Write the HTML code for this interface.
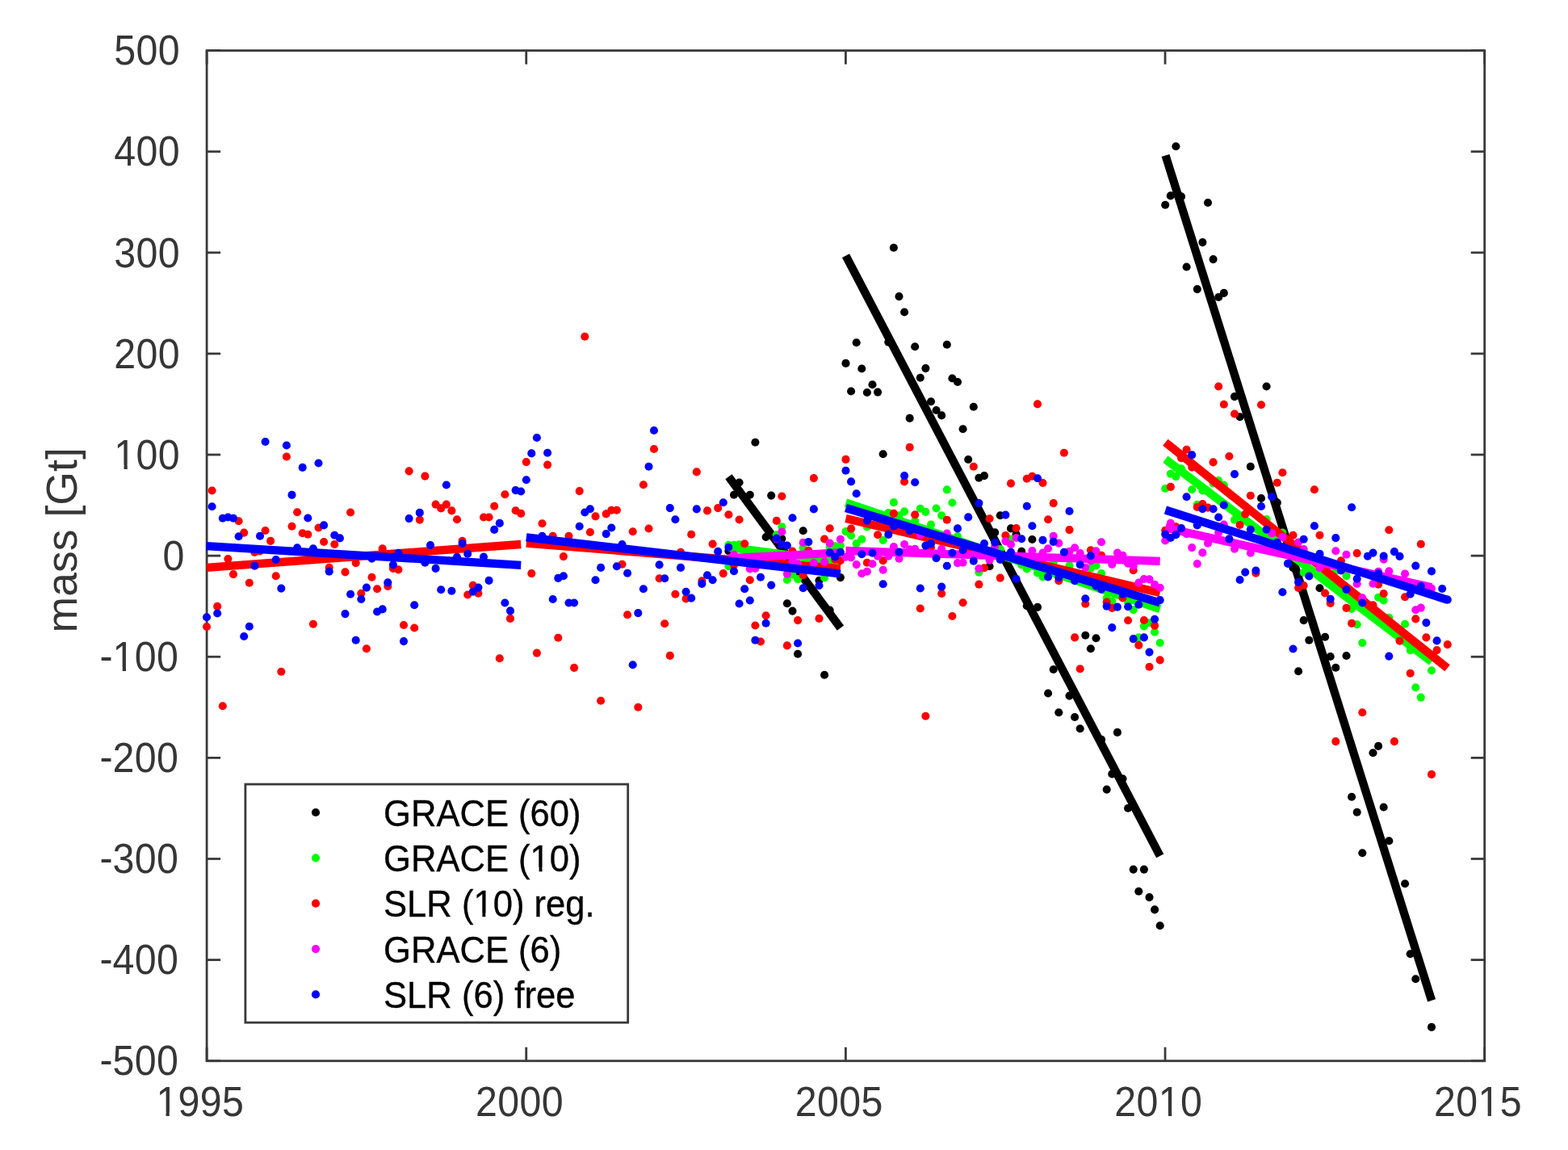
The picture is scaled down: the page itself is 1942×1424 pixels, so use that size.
<!DOCTYPE html>
<html lang="en">
<head>
<meta charset="utf-8">
<title>mass [Gt] time series: GRACE and SLR</title>
<style>
html,body{margin:0;padding:0;background:#fff;}
body{width:1942px;height:1424px;overflow:hidden;font-family:"Liberation Sans",sans-serif;}
svg{display:block;}
</style>
</head>
<body>
<svg width="1942" height="1424" viewBox="0 0 1942 1424">
<rect x="0" y="0" width="1942" height="1424" fill="#fff"/>
<g stroke="#3a3a3a" stroke-width="2.8" fill="none">
<rect x="256.1" y="62.6" width="1582.60" height="1251.10"/>
</g>
<g stroke="#3a3a3a" stroke-width="2.8" fill="none">
<line x1="256.10" y1="1313.7" x2="256.10" y2="1296.7"/>
<line x1="256.10" y1="62.6" x2="256.10" y2="79.6"/>
<line x1="651.75" y1="1313.7" x2="651.75" y2="1296.7"/>
<line x1="651.75" y1="62.6" x2="651.75" y2="79.6"/>
<line x1="1047.40" y1="1313.7" x2="1047.40" y2="1296.7"/>
<line x1="1047.40" y1="62.6" x2="1047.40" y2="79.6"/>
<line x1="1443.05" y1="1313.7" x2="1443.05" y2="1296.7"/>
<line x1="1443.05" y1="62.6" x2="1443.05" y2="79.6"/>
<line x1="1838.70" y1="1313.7" x2="1838.70" y2="1296.7"/>
<line x1="1838.70" y1="62.6" x2="1838.70" y2="79.6"/>
<line x1="256.1" y1="1313.70" x2="273.1" y2="1313.70"/>
<line x1="1838.7" y1="1313.70" x2="1821.7" y2="1313.70"/>
<line x1="256.1" y1="1188.59" x2="273.1" y2="1188.59"/>
<line x1="1838.7" y1="1188.59" x2="1821.7" y2="1188.59"/>
<line x1="256.1" y1="1063.48" x2="273.1" y2="1063.48"/>
<line x1="1838.7" y1="1063.48" x2="1821.7" y2="1063.48"/>
<line x1="256.1" y1="938.37" x2="273.1" y2="938.37"/>
<line x1="1838.7" y1="938.37" x2="1821.7" y2="938.37"/>
<line x1="256.1" y1="813.26" x2="273.1" y2="813.26"/>
<line x1="1838.7" y1="813.26" x2="1821.7" y2="813.26"/>
<line x1="256.1" y1="688.15" x2="273.1" y2="688.15"/>
<line x1="1838.7" y1="688.15" x2="1821.7" y2="688.15"/>
<line x1="256.1" y1="563.04" x2="273.1" y2="563.04"/>
<line x1="1838.7" y1="563.04" x2="1821.7" y2="563.04"/>
<line x1="256.1" y1="437.93" x2="273.1" y2="437.93"/>
<line x1="1838.7" y1="437.93" x2="1821.7" y2="437.93"/>
<line x1="256.1" y1="312.82" x2="273.1" y2="312.82"/>
<line x1="1838.7" y1="312.82" x2="1821.7" y2="312.82"/>
<line x1="256.1" y1="187.71" x2="273.1" y2="187.71"/>
<line x1="1838.7" y1="187.71" x2="1821.7" y2="187.71"/>
<line x1="256.1" y1="62.60" x2="273.1" y2="62.60"/>
<line x1="1838.7" y1="62.60" x2="1821.7" y2="62.60"/>
</g>
<g fill="#000000"><circle cx="902.4" cy="682.3" r="5.05"/><circle cx="909.0" cy="612.7" r="5.05"/><circle cx="915.6" cy="597.5" r="5.05"/><circle cx="928.8" cy="612.7" r="5.05"/><circle cx="935.4" cy="547.8" r="5.05"/><circle cx="948.6" cy="665.0" r="5.05"/><circle cx="955.2" cy="613.6" r="5.05"/><circle cx="968.4" cy="667.1" r="5.05"/><circle cx="974.9" cy="747.2" r="5.05"/><circle cx="981.5" cy="756.6" r="5.05"/><circle cx="988.1" cy="809.7" r="5.05"/><circle cx="994.7" cy="657.2" r="5.05"/><circle cx="1014.5" cy="718.8" r="5.05"/><circle cx="1021.1" cy="835.7" r="5.05"/><circle cx="1027.7" cy="755.6" r="5.05"/><circle cx="1040.9" cy="715.1" r="5.05"/><circle cx="1047.5" cy="449.9" r="5.05"/><circle cx="1054.1" cy="484.5" r="5.05"/><circle cx="1060.7" cy="424.2" r="5.05"/><circle cx="1067.3" cy="456.5" r="5.05"/><circle cx="1073.9" cy="486.0" r="5.05"/><circle cx="1080.5" cy="476.3" r="5.05"/><circle cx="1087.1" cy="485.6" r="5.05"/><circle cx="1093.7" cy="562.2" r="5.05"/><circle cx="1100.3" cy="423.6" r="5.05"/><circle cx="1106.9" cy="306.8" r="5.05"/><circle cx="1113.5" cy="367.1" r="5.05"/><circle cx="1120.1" cy="386.5" r="5.05"/><circle cx="1126.7" cy="517.9" r="5.05"/><circle cx="1133.2" cy="429.3" r="5.05"/><circle cx="1139.8" cy="467.8" r="5.05"/><circle cx="1146.4" cy="456.1" r="5.05"/><circle cx="1153.0" cy="497.3" r="5.05"/><circle cx="1159.6" cy="508.0" r="5.05"/><circle cx="1166.2" cy="514.4" r="5.05"/><circle cx="1172.8" cy="426.7" r="5.05"/><circle cx="1179.4" cy="468.5" r="5.05"/><circle cx="1186.0" cy="473.0" r="5.05"/><circle cx="1192.6" cy="531.3" r="5.05"/><circle cx="1199.2" cy="569.0" r="5.05"/><circle cx="1205.8" cy="503.7" r="5.05"/><circle cx="1212.4" cy="591.8" r="5.05"/><circle cx="1219.0" cy="589.1" r="5.05"/><circle cx="1225.6" cy="701.2" r="5.05"/><circle cx="1232.2" cy="659.4" r="5.05"/><circle cx="1238.8" cy="638.2" r="5.05"/><circle cx="1252.0" cy="654.4" r="5.05"/><circle cx="1258.6" cy="661.5" r="5.05"/><circle cx="1265.2" cy="682.9" r="5.05"/><circle cx="1271.8" cy="750.2" r="5.05"/><circle cx="1278.4" cy="668.0" r="5.05"/><circle cx="1285.0" cy="751.9" r="5.05"/><circle cx="1298.1" cy="858.5" r="5.05"/><circle cx="1304.7" cy="829.0" r="5.05"/><circle cx="1311.3" cy="882.2" r="5.05"/><circle cx="1324.5" cy="861.6" r="5.05"/><circle cx="1331.1" cy="888.0" r="5.05"/><circle cx="1337.7" cy="902.2" r="5.05"/><circle cx="1344.3" cy="786.8" r="5.05"/><circle cx="1350.9" cy="803.3" r="5.05"/><circle cx="1357.5" cy="790.3" r="5.05"/><circle cx="1364.1" cy="915.8" r="5.05"/><circle cx="1370.7" cy="977.6" r="5.05"/><circle cx="1377.3" cy="958.4" r="5.05"/><circle cx="1383.9" cy="906.9" r="5.05"/><circle cx="1390.5" cy="964.2" r="5.05"/><circle cx="1397.1" cy="1000.7" r="5.05"/><circle cx="1403.7" cy="1076.6" r="5.05"/><circle cx="1410.3" cy="1103.7" r="5.05"/><circle cx="1416.9" cy="1076.6" r="5.05"/><circle cx="1423.5" cy="1111.1" r="5.05"/><circle cx="1430.1" cy="1126.4" r="5.05"/><circle cx="1436.7" cy="1146.3" r="5.05"/><circle cx="1443.2" cy="253.7" r="5.05"/><circle cx="1449.8" cy="242.4" r="5.05"/><circle cx="1456.4" cy="181.2" r="5.05"/><circle cx="1463.0" cy="243.4" r="5.05"/><circle cx="1469.6" cy="330.5" r="5.05"/><circle cx="1482.8" cy="358.1" r="5.05"/><circle cx="1489.4" cy="300.1" r="5.05"/><circle cx="1496.0" cy="251.0" r="5.05"/><circle cx="1502.6" cy="321.1" r="5.05"/><circle cx="1509.2" cy="368.0" r="5.05"/><circle cx="1515.8" cy="362.9" r="5.05"/><circle cx="1529.0" cy="491.1" r="5.05"/><circle cx="1535.6" cy="516.2" r="5.05"/><circle cx="1548.8" cy="577.7" r="5.05"/><circle cx="1562.0" cy="617.0" r="5.05"/><circle cx="1568.6" cy="478.5" r="5.05"/><circle cx="1581.8" cy="622.4" r="5.05"/><circle cx="1601.5" cy="703.2" r="5.05"/><circle cx="1608.1" cy="831.3" r="5.05"/><circle cx="1614.7" cy="768.1" r="5.05"/><circle cx="1621.3" cy="792.8" r="5.05"/><circle cx="1634.5" cy="728.3" r="5.05"/><circle cx="1641.1" cy="788.7" r="5.05"/><circle cx="1647.7" cy="813.0" r="5.05"/><circle cx="1654.3" cy="826.8" r="5.05"/><circle cx="1667.5" cy="812.0" r="5.05"/><circle cx="1674.1" cy="986.7" r="5.05"/><circle cx="1680.7" cy="1005.7" r="5.05"/><circle cx="1687.3" cy="1056.2" r="5.05"/><circle cx="1700.5" cy="932.2" r="5.05"/><circle cx="1707.1" cy="923.9" r="5.05"/><circle cx="1713.7" cy="999.5" r="5.05"/><circle cx="1720.3" cy="1041.2" r="5.05"/><circle cx="1740.1" cy="1094.3" r="5.05"/><circle cx="1746.7" cy="1181.3" r="5.05"/><circle cx="1753.3" cy="1212.2" r="5.05"/><circle cx="1773.0" cy="1271.9" r="5.05"/></g>
<g stroke="#000000" stroke-width="10.3" fill="none" stroke-linecap="butt"><line x1="902.4" y1="590.3" x2="1041.0" y2="777.6"/><line x1="1047.5" y1="316.7" x2="1436.7" y2="1059.8"/><line x1="1443.5" y1="192.5" x2="1773.1" y2="1238.9"/></g>
<g fill="#00ff00"><circle cx="902.4" cy="674.7" r="5.05"/><circle cx="902.4" cy="701.1" r="5.05"/><circle cx="909.0" cy="674.7" r="5.05"/><circle cx="915.6" cy="674.3" r="5.05"/><circle cx="961.8" cy="662.2" r="5.05"/><circle cx="968.4" cy="652.3" r="5.05"/><circle cx="974.9" cy="718.0" r="5.05"/><circle cx="981.5" cy="711.8" r="5.05"/><circle cx="988.1" cy="717.1" r="5.05"/><circle cx="994.7" cy="678.4" r="5.05"/><circle cx="1021.1" cy="715.5" r="5.05"/><circle cx="1027.7" cy="677.2" r="5.05"/><circle cx="1034.3" cy="676.4" r="5.05"/><circle cx="1040.9" cy="675.6" r="5.05"/><circle cx="1047.5" cy="658.1" r="5.05"/><circle cx="1054.1" cy="663.2" r="5.05"/><circle cx="1060.7" cy="673.1" r="5.05"/><circle cx="1067.3" cy="667.7" r="5.05"/><circle cx="1073.9" cy="652.4" r="5.05"/><circle cx="1093.7" cy="669.0" r="5.05"/><circle cx="1100.3" cy="635.1" r="5.05"/><circle cx="1106.9" cy="622.1" r="5.05"/><circle cx="1113.5" cy="638.4" r="5.05"/><circle cx="1120.1" cy="633.4" r="5.05"/><circle cx="1133.2" cy="645.0" r="5.05"/><circle cx="1139.8" cy="629.7" r="5.05"/><circle cx="1146.4" cy="633.9" r="5.05"/><circle cx="1153.0" cy="649.5" r="5.05"/><circle cx="1159.6" cy="629.5" r="5.05"/><circle cx="1166.2" cy="638.4" r="5.05"/><circle cx="1172.8" cy="606.4" r="5.05"/><circle cx="1179.4" cy="622.5" r="5.05"/><circle cx="1186.0" cy="664.0" r="5.05"/><circle cx="1212.4" cy="708.6" r="5.05"/><circle cx="1238.8" cy="680.0" r="5.05"/><circle cx="1252.0" cy="667.6" r="5.05"/><circle cx="1265.2" cy="699.5" r="5.05"/><circle cx="1271.8" cy="704.5" r="5.05"/><circle cx="1285.0" cy="709.4" r="5.05"/><circle cx="1291.5" cy="714.4" r="5.05"/><circle cx="1304.7" cy="696.3" r="5.05"/><circle cx="1324.5" cy="700.4" r="5.05"/><circle cx="1350.9" cy="703.6" r="5.05"/><circle cx="1357.5" cy="700.3" r="5.05"/><circle cx="1364.1" cy="710.0" r="5.05"/><circle cx="1370.7" cy="740.5" r="5.05"/><circle cx="1377.3" cy="744.6" r="5.05"/><circle cx="1397.1" cy="746.3" r="5.05"/><circle cx="1403.7" cy="755.1" r="5.05"/><circle cx="1410.3" cy="789.4" r="5.05"/><circle cx="1416.9" cy="775.4" r="5.05"/><circle cx="1423.5" cy="771.3" r="5.05"/><circle cx="1430.1" cy="782.8" r="5.05"/><circle cx="1436.7" cy="796.0" r="5.05"/><circle cx="1443.2" cy="605.0" r="5.05"/><circle cx="1449.8" cy="586.8" r="5.05"/><circle cx="1456.4" cy="590.1" r="5.05"/><circle cx="1463.0" cy="580.3" r="5.05"/><circle cx="1476.2" cy="606.2" r="5.05"/><circle cx="1482.8" cy="624.7" r="5.05"/><circle cx="1489.4" cy="607.4" r="5.05"/><circle cx="1502.6" cy="598.4" r="5.05"/><circle cx="1509.2" cy="595.1" r="5.05"/><circle cx="1515.8" cy="600.6" r="5.05"/><circle cx="1529.0" cy="643.8" r="5.05"/><circle cx="1568.6" cy="643.0" r="5.05"/><circle cx="1581.8" cy="666.1" r="5.05"/><circle cx="1588.4" cy="659.5" r="5.05"/><circle cx="1614.7" cy="709.0" r="5.05"/><circle cx="1654.3" cy="707.3" r="5.05"/><circle cx="1667.5" cy="713.1" r="5.05"/><circle cx="1674.1" cy="753.9" r="5.05"/><circle cx="1680.7" cy="773.3" r="5.05"/><circle cx="1687.3" cy="796.1" r="5.05"/><circle cx="1707.1" cy="739.8" r="5.05"/><circle cx="1713.7" cy="743.4" r="5.05"/><circle cx="1720.3" cy="764.7" r="5.05"/><circle cx="1740.1" cy="772.7" r="5.05"/><circle cx="1746.7" cy="805.1" r="5.05"/><circle cx="1753.3" cy="851.2" r="5.05"/><circle cx="1759.8" cy="863.6" r="5.05"/><circle cx="1773.0" cy="830.2" r="5.05"/></g>
<g stroke="#00ff00" stroke-width="10.3" fill="none" stroke-linecap="butt"><line x1="902.4" y1="677.6" x2="1040.9" y2="695.7"/><line x1="1047.5" y1="622.5" x2="1436.7" y2="754.0"/><line x1="1443.4" y1="568.7" x2="1773.1" y2="819.5"/></g>
<g fill="#ff0000"><circle cx="256.0" cy="776.0" r="5.05"/><circle cx="262.6" cy="607.5" r="5.05"/><circle cx="269.2" cy="750.9" r="5.05"/><circle cx="275.8" cy="874.3" r="5.05"/><circle cx="282.4" cy="692.0" r="5.05"/><circle cx="289.0" cy="711.1" r="5.05"/><circle cx="295.6" cy="645.2" r="5.05"/><circle cx="302.2" cy="659.6" r="5.05"/><circle cx="308.8" cy="721.8" r="5.05"/><circle cx="315.4" cy="683.9" r="5.05"/><circle cx="322.0" cy="682.5" r="5.05"/><circle cx="328.6" cy="657.0" r="5.05"/><circle cx="335.1" cy="669.9" r="5.05"/><circle cx="341.7" cy="713.2" r="5.05"/><circle cx="348.3" cy="831.7" r="5.05"/><circle cx="354.9" cy="565.5" r="5.05"/><circle cx="361.5" cy="651.8" r="5.05"/><circle cx="368.1" cy="634.3" r="5.05"/><circle cx="374.7" cy="660.2" r="5.05"/><circle cx="381.3" cy="661.7" r="5.05"/><circle cx="387.9" cy="772.8" r="5.05"/><circle cx="394.5" cy="653.5" r="5.05"/><circle cx="401.1" cy="671.0" r="5.05"/><circle cx="407.7" cy="702.9" r="5.05"/><circle cx="414.3" cy="674.0" r="5.05"/><circle cx="427.5" cy="708.4" r="5.05"/><circle cx="434.1" cy="634.5" r="5.05"/><circle cx="440.7" cy="697.1" r="5.05"/><circle cx="447.3" cy="734.8" r="5.05"/><circle cx="453.9" cy="803.3" r="5.05"/><circle cx="460.5" cy="714.8" r="5.05"/><circle cx="467.1" cy="729.2" r="5.05"/><circle cx="473.7" cy="679.2" r="5.05"/><circle cx="480.3" cy="726.0" r="5.05"/><circle cx="486.9" cy="703.9" r="5.05"/><circle cx="493.4" cy="705.4" r="5.05"/><circle cx="500.0" cy="774.0" r="5.05"/><circle cx="506.6" cy="583.4" r="5.05"/><circle cx="513.2" cy="777.5" r="5.05"/><circle cx="519.8" cy="643.6" r="5.05"/><circle cx="526.4" cy="589.6" r="5.05"/><circle cx="539.6" cy="624.6" r="5.05"/><circle cx="546.2" cy="629.4" r="5.05"/><circle cx="552.8" cy="624.6" r="5.05"/><circle cx="559.4" cy="632.4" r="5.05"/><circle cx="566.0" cy="643.2" r="5.05"/><circle cx="572.6" cy="669.9" r="5.05"/><circle cx="579.2" cy="736.5" r="5.05"/><circle cx="585.8" cy="724.9" r="5.05"/><circle cx="592.4" cy="734.8" r="5.05"/><circle cx="599.0" cy="640.5" r="5.05"/><circle cx="605.6" cy="640.5" r="5.05"/><circle cx="612.2" cy="626.7" r="5.05"/><circle cx="618.8" cy="815.2" r="5.05"/><circle cx="625.4" cy="612.3" r="5.05"/><circle cx="632.0" cy="765.9" r="5.05"/><circle cx="638.6" cy="632.2" r="5.05"/><circle cx="645.2" cy="635.9" r="5.05"/><circle cx="651.8" cy="572.1" r="5.05"/><circle cx="658.3" cy="710.1" r="5.05"/><circle cx="664.9" cy="808.6" r="5.05"/><circle cx="671.5" cy="648.3" r="5.05"/><circle cx="678.1" cy="575.6" r="5.05"/><circle cx="684.7" cy="663.7" r="5.05"/><circle cx="691.3" cy="789.8" r="5.05"/><circle cx="697.9" cy="689.1" r="5.05"/><circle cx="704.5" cy="663.7" r="5.05"/><circle cx="711.1" cy="826.9" r="5.05"/><circle cx="717.7" cy="608.1" r="5.05"/><circle cx="724.3" cy="416.8" r="5.05"/><circle cx="730.9" cy="659.0" r="5.05"/><circle cx="737.5" cy="639.4" r="5.05"/><circle cx="744.1" cy="867.7" r="5.05"/><circle cx="750.7" cy="636.4" r="5.05"/><circle cx="757.3" cy="631.8" r="5.05"/><circle cx="763.9" cy="631.8" r="5.05"/><circle cx="770.5" cy="698.8" r="5.05"/><circle cx="777.1" cy="761.2" r="5.05"/><circle cx="783.7" cy="658.2" r="5.05"/><circle cx="790.3" cy="875.8" r="5.05"/><circle cx="796.9" cy="600.3" r="5.05"/><circle cx="803.5" cy="654.5" r="5.05"/><circle cx="810.0" cy="556.0" r="5.05"/><circle cx="816.6" cy="716.3" r="5.05"/><circle cx="823.2" cy="772.3" r="5.05"/><circle cx="829.8" cy="811.9" r="5.05"/><circle cx="836.4" cy="735.8" r="5.05"/><circle cx="843.0" cy="683.9" r="5.05"/><circle cx="849.6" cy="741.4" r="5.05"/><circle cx="856.2" cy="661.7" r="5.05"/><circle cx="862.8" cy="584.4" r="5.05"/><circle cx="869.4" cy="719.4" r="5.05"/><circle cx="876.0" cy="632.4" r="5.05"/><circle cx="882.6" cy="673.6" r="5.05"/><circle cx="889.2" cy="629.1" r="5.05"/><circle cx="895.8" cy="710.1" r="5.05"/><circle cx="902.4" cy="637.3" r="5.05"/><circle cx="909.0" cy="699.8" r="5.05"/><circle cx="915.6" cy="643.5" r="5.05"/><circle cx="922.2" cy="673.3" r="5.05"/><circle cx="928.8" cy="718.2" r="5.05"/><circle cx="935.4" cy="774.5" r="5.05"/><circle cx="942.0" cy="794.5" r="5.05"/><circle cx="948.6" cy="762.2" r="5.05"/><circle cx="961.8" cy="644.9" r="5.05"/><circle cx="968.4" cy="614.5" r="5.05"/><circle cx="974.9" cy="799.4" r="5.05"/><circle cx="981.5" cy="682.5" r="5.05"/><circle cx="988.1" cy="768.1" r="5.05"/><circle cx="994.7" cy="712.2" r="5.05"/><circle cx="1001.3" cy="681.7" r="5.05"/><circle cx="1007.9" cy="592.1" r="5.05"/><circle cx="1014.5" cy="765.9" r="5.05"/><circle cx="1021.1" cy="667.5" r="5.05"/><circle cx="1027.7" cy="654.3" r="5.05"/><circle cx="1034.3" cy="692.8" r="5.05"/><circle cx="1040.9" cy="694.1" r="5.05"/><circle cx="1047.5" cy="568.9" r="5.05"/><circle cx="1054.1" cy="654.6" r="5.05"/><circle cx="1073.9" cy="696.7" r="5.05"/><circle cx="1087.1" cy="662.3" r="5.05"/><circle cx="1093.7" cy="694.2" r="5.05"/><circle cx="1106.9" cy="635.9" r="5.05"/><circle cx="1120.1" cy="596.5" r="5.05"/><circle cx="1126.7" cy="553.9" r="5.05"/><circle cx="1133.2" cy="637.4" r="5.05"/><circle cx="1139.8" cy="753.5" r="5.05"/><circle cx="1146.4" cy="886.8" r="5.05"/><circle cx="1153.0" cy="677.7" r="5.05"/><circle cx="1166.2" cy="735.0" r="5.05"/><circle cx="1172.8" cy="643.7" r="5.05"/><circle cx="1179.4" cy="763.0" r="5.05"/><circle cx="1192.6" cy="746.3" r="5.05"/><circle cx="1205.8" cy="577.8" r="5.05"/><circle cx="1212.4" cy="723.6" r="5.05"/><circle cx="1219.0" cy="703.3" r="5.05"/><circle cx="1225.6" cy="642.3" r="5.05"/><circle cx="1238.8" cy="715.6" r="5.05"/><circle cx="1245.4" cy="663.1" r="5.05"/><circle cx="1252.0" cy="598.6" r="5.05"/><circle cx="1258.6" cy="654.0" r="5.05"/><circle cx="1271.8" cy="592.7" r="5.05"/><circle cx="1278.4" cy="589.8" r="5.05"/><circle cx="1285.0" cy="500.4" r="5.05"/><circle cx="1291.5" cy="598.0" r="5.05"/><circle cx="1298.1" cy="643.3" r="5.05"/><circle cx="1304.7" cy="623.1" r="5.05"/><circle cx="1311.3" cy="719.3" r="5.05"/><circle cx="1317.9" cy="560.7" r="5.05"/><circle cx="1324.5" cy="656.1" r="5.05"/><circle cx="1331.1" cy="789.4" r="5.05"/><circle cx="1337.7" cy="828.3" r="5.05"/><circle cx="1344.3" cy="747.8" r="5.05"/><circle cx="1350.9" cy="681.2" r="5.05"/><circle cx="1364.1" cy="687.8" r="5.05"/><circle cx="1370.7" cy="745.5" r="5.05"/><circle cx="1377.3" cy="752.9" r="5.05"/><circle cx="1390.5" cy="740.5" r="5.05"/><circle cx="1397.1" cy="768.3" r="5.05"/><circle cx="1403.7" cy="706.3" r="5.05"/><circle cx="1410.3" cy="798.9" r="5.05"/><circle cx="1416.9" cy="768.0" r="5.05"/><circle cx="1423.5" cy="825.7" r="5.05"/><circle cx="1430.1" cy="774.6" r="5.05"/><circle cx="1436.7" cy="817.4" r="5.05"/><circle cx="1443.2" cy="656.7" r="5.05"/><circle cx="1449.8" cy="602.9" r="5.05"/><circle cx="1456.4" cy="652.2" r="5.05"/><circle cx="1463.0" cy="567.1" r="5.05"/><circle cx="1469.6" cy="556.8" r="5.05"/><circle cx="1476.2" cy="578.6" r="5.05"/><circle cx="1482.8" cy="628.0" r="5.05"/><circle cx="1489.4" cy="624.0" r="5.05"/><circle cx="1496.0" cy="628.6" r="5.05"/><circle cx="1502.6" cy="572.4" r="5.05"/><circle cx="1509.2" cy="478.5" r="5.05"/><circle cx="1515.8" cy="500.8" r="5.05"/><circle cx="1522.4" cy="565.0" r="5.05"/><circle cx="1529.0" cy="512.5" r="5.05"/><circle cx="1535.6" cy="650.0" r="5.05"/><circle cx="1542.2" cy="636.8" r="5.05"/><circle cx="1548.8" cy="613.7" r="5.05"/><circle cx="1555.4" cy="709.8" r="5.05"/><circle cx="1562.0" cy="501.2" r="5.05"/><circle cx="1581.8" cy="597.7" r="5.05"/><circle cx="1588.4" cy="585.3" r="5.05"/><circle cx="1601.5" cy="662.8" r="5.05"/><circle cx="1608.1" cy="727.9" r="5.05"/><circle cx="1614.7" cy="725.0" r="5.05"/><circle cx="1627.9" cy="606.3" r="5.05"/><circle cx="1634.5" cy="662.8" r="5.05"/><circle cx="1641.1" cy="734.5" r="5.05"/><circle cx="1647.7" cy="746.9" r="5.05"/><circle cx="1654.3" cy="918.1" r="5.05"/><circle cx="1660.9" cy="694.2" r="5.05"/><circle cx="1667.5" cy="752.9" r="5.05"/><circle cx="1674.1" cy="771.9" r="5.05"/><circle cx="1680.7" cy="685.1" r="5.05"/><circle cx="1687.3" cy="882.3" r="5.05"/><circle cx="1700.5" cy="749.4" r="5.05"/><circle cx="1707.1" cy="723.7" r="5.05"/><circle cx="1713.7" cy="735.0" r="5.05"/><circle cx="1720.3" cy="656.3" r="5.05"/><circle cx="1726.9" cy="918.1" r="5.05"/><circle cx="1733.5" cy="793.6" r="5.05"/><circle cx="1740.1" cy="739.2" r="5.05"/><circle cx="1746.7" cy="833.8" r="5.05"/><circle cx="1753.3" cy="766.4" r="5.05"/><circle cx="1759.8" cy="673.8" r="5.05"/><circle cx="1766.4" cy="789.4" r="5.05"/><circle cx="1773.0" cy="958.9" r="5.05"/><circle cx="1779.6" cy="805.1" r="5.05"/><circle cx="1792.8" cy="798.1" r="5.05"/></g>
<g stroke="#ff0000" stroke-width="10.3" fill="none" stroke-linecap="butt"><line x1="256.0" y1="702.8" x2="645.2" y2="674.0"/><line x1="651.8" y1="672.6" x2="1040.9" y2="704.1"/><line x1="1047.5" y1="642.0" x2="1436.7" y2="734.0"/><line x1="1443.4" y1="547.7" x2="1792.6" y2="827.3"/></g>
<g fill="#ff00ff"><circle cx="909.0" cy="686.7" r="5.05"/><circle cx="928.8" cy="704.4" r="5.05"/><circle cx="935.4" cy="704.0" r="5.05"/><circle cx="961.8" cy="667.5" r="5.05"/><circle cx="968.4" cy="658.5" r="5.05"/><circle cx="974.9" cy="710.6" r="5.05"/><circle cx="981.5" cy="694.9" r="5.05"/><circle cx="988.1" cy="698.2" r="5.05"/><circle cx="994.7" cy="671.9" r="5.05"/><circle cx="1007.9" cy="697.0" r="5.05"/><circle cx="1021.1" cy="695.7" r="5.05"/><circle cx="1027.7" cy="672.6" r="5.05"/><circle cx="1040.9" cy="667.7" r="5.05"/><circle cx="1047.5" cy="689.7" r="5.05"/><circle cx="1054.1" cy="690.5" r="5.05"/><circle cx="1060.7" cy="699.1" r="5.05"/><circle cx="1067.3" cy="710.3" r="5.05"/><circle cx="1073.9" cy="707.8" r="5.05"/><circle cx="1080.5" cy="698.3" r="5.05"/><circle cx="1087.1" cy="688.8" r="5.05"/><circle cx="1093.7" cy="705.7" r="5.05"/><circle cx="1100.3" cy="688.8" r="5.05"/><circle cx="1106.9" cy="677.0" r="5.05"/><circle cx="1113.5" cy="691.7" r="5.05"/><circle cx="1120.1" cy="674.0" r="5.05"/><circle cx="1126.7" cy="680.2" r="5.05"/><circle cx="1133.2" cy="679.7" r="5.05"/><circle cx="1139.8" cy="662.4" r="5.05"/><circle cx="1166.2" cy="679.7" r="5.05"/><circle cx="1172.8" cy="660.6" r="5.05"/><circle cx="1186.0" cy="697.1" r="5.05"/><circle cx="1192.6" cy="696.7" r="5.05"/><circle cx="1212.4" cy="704.1" r="5.05"/><circle cx="1225.6" cy="693.8" r="5.05"/><circle cx="1232.2" cy="676.8" r="5.05"/><circle cx="1245.4" cy="670.1" r="5.05"/><circle cx="1252.0" cy="674.2" r="5.05"/><circle cx="1258.6" cy="666.0" r="5.05"/><circle cx="1278.4" cy="682.0" r="5.05"/><circle cx="1291.5" cy="684.5" r="5.05"/><circle cx="1298.1" cy="679.2" r="5.05"/><circle cx="1304.7" cy="663.9" r="5.05"/><circle cx="1311.3" cy="672.6" r="5.05"/><circle cx="1324.5" cy="682.9" r="5.05"/><circle cx="1331.1" cy="678.2" r="5.05"/><circle cx="1337.7" cy="685.1" r="5.05"/><circle cx="1344.3" cy="702.7" r="5.05"/><circle cx="1350.9" cy="694.4" r="5.05"/><circle cx="1357.5" cy="682.4" r="5.05"/><circle cx="1364.1" cy="671.3" r="5.05"/><circle cx="1377.3" cy="698.9" r="5.05"/><circle cx="1383.9" cy="684.5" r="5.05"/><circle cx="1390.5" cy="687.8" r="5.05"/><circle cx="1397.1" cy="697.7" r="5.05"/><circle cx="1403.7" cy="701.0" r="5.05"/><circle cx="1410.3" cy="721.6" r="5.05"/><circle cx="1416.9" cy="717.0" r="5.05"/><circle cx="1423.5" cy="717.4" r="5.05"/><circle cx="1430.1" cy="723.9" r="5.05"/><circle cx="1436.7" cy="727.8" r="5.05"/><circle cx="1443.2" cy="669.5" r="5.05"/><circle cx="1449.8" cy="647.9" r="5.05"/><circle cx="1456.4" cy="656.3" r="5.05"/><circle cx="1469.6" cy="661.3" r="5.05"/><circle cx="1476.2" cy="678.1" r="5.05"/><circle cx="1482.8" cy="698.1" r="5.05"/><circle cx="1489.4" cy="684.4" r="5.05"/><circle cx="1496.0" cy="672.8" r="5.05"/><circle cx="1509.2" cy="659.5" r="5.05"/><circle cx="1515.8" cy="649.6" r="5.05"/><circle cx="1529.0" cy="679.7" r="5.05"/><circle cx="1548.8" cy="684.7" r="5.05"/><circle cx="1575.2" cy="660.4" r="5.05"/><circle cx="1588.4" cy="665.1" r="5.05"/><circle cx="1608.1" cy="671.5" r="5.05"/><circle cx="1614.7" cy="680.1" r="5.05"/><circle cx="1634.5" cy="703.2" r="5.05"/><circle cx="1654.3" cy="682.2" r="5.05"/><circle cx="1667.5" cy="686.7" r="5.05"/><circle cx="1680.7" cy="723.0" r="5.05"/><circle cx="1687.3" cy="740.3" r="5.05"/><circle cx="1700.5" cy="722.7" r="5.05"/><circle cx="1707.1" cy="707.9" r="5.05"/><circle cx="1713.7" cy="692.6" r="5.05"/><circle cx="1720.3" cy="707.2" r="5.05"/><circle cx="1740.1" cy="710.5" r="5.05"/><circle cx="1753.3" cy="755.3" r="5.05"/><circle cx="1759.8" cy="752.6" r="5.05"/><circle cx="1773.0" cy="728.6" r="5.05"/></g>
<g stroke="#ff00ff" stroke-width="10.3" fill="none" stroke-linecap="butt"><line x1="902.4" y1="691.2" x2="1040.9" y2="684.5"/><line x1="1047.5" y1="681.8" x2="1436.7" y2="694.9"/><line x1="1443.4" y1="653.5" x2="1773.1" y2="727.3"/></g>
<g fill="#0000ff"><circle cx="256.0" cy="764.3" r="5.05"/><circle cx="262.6" cy="627.3" r="5.05"/><circle cx="269.2" cy="759.5" r="5.05"/><circle cx="275.8" cy="641.7" r="5.05"/><circle cx="282.4" cy="640.5" r="5.05"/><circle cx="289.0" cy="641.7" r="5.05"/><circle cx="295.6" cy="664.2" r="5.05"/><circle cx="302.2" cy="788.0" r="5.05"/><circle cx="308.8" cy="775.7" r="5.05"/><circle cx="315.4" cy="700.8" r="5.05"/><circle cx="322.0" cy="663.7" r="5.05"/><circle cx="328.6" cy="547.0" r="5.05"/><circle cx="341.7" cy="693.0" r="5.05"/><circle cx="348.3" cy="728.6" r="5.05"/><circle cx="354.9" cy="551.5" r="5.05"/><circle cx="361.5" cy="612.9" r="5.05"/><circle cx="368.1" cy="678.2" r="5.05"/><circle cx="374.7" cy="578.9" r="5.05"/><circle cx="381.3" cy="641.5" r="5.05"/><circle cx="387.9" cy="679.2" r="5.05"/><circle cx="394.5" cy="573.5" r="5.05"/><circle cx="401.1" cy="650.4" r="5.05"/><circle cx="407.7" cy="707.6" r="5.05"/><circle cx="414.3" cy="662.7" r="5.05"/><circle cx="420.9" cy="666.4" r="5.05"/><circle cx="427.5" cy="760.1" r="5.05"/><circle cx="434.1" cy="735.8" r="5.05"/><circle cx="440.7" cy="792.8" r="5.05"/><circle cx="447.3" cy="742.0" r="5.05"/><circle cx="453.9" cy="727.6" r="5.05"/><circle cx="460.5" cy="691.6" r="5.05"/><circle cx="467.1" cy="757.5" r="5.05"/><circle cx="473.7" cy="754.4" r="5.05"/><circle cx="480.3" cy="721.4" r="5.05"/><circle cx="486.9" cy="699.4" r="5.05"/><circle cx="493.4" cy="684.8" r="5.05"/><circle cx="500.0" cy="794.1" r="5.05"/><circle cx="506.6" cy="642.1" r="5.05"/><circle cx="513.2" cy="749.2" r="5.05"/><circle cx="519.8" cy="634.9" r="5.05"/><circle cx="526.4" cy="696.7" r="5.05"/><circle cx="533.0" cy="675.1" r="5.05"/><circle cx="539.6" cy="703.9" r="5.05"/><circle cx="546.2" cy="730.3" r="5.05"/><circle cx="552.8" cy="600.5" r="5.05"/><circle cx="559.4" cy="731.7" r="5.05"/><circle cx="566.0" cy="689.9" r="5.05"/><circle cx="572.6" cy="673.0" r="5.05"/><circle cx="579.2" cy="685.8" r="5.05"/><circle cx="585.8" cy="732.7" r="5.05"/><circle cx="592.4" cy="727.6" r="5.05"/><circle cx="599.0" cy="689.5" r="5.05"/><circle cx="605.6" cy="718.9" r="5.05"/><circle cx="612.2" cy="655.9" r="5.05"/><circle cx="618.8" cy="647.9" r="5.05"/><circle cx="625.4" cy="746.5" r="5.05"/><circle cx="632.0" cy="756.4" r="5.05"/><circle cx="638.6" cy="607.1" r="5.05"/><circle cx="645.2" cy="608.5" r="5.05"/><circle cx="651.8" cy="594.2" r="5.05"/><circle cx="658.3" cy="561.4" r="5.05"/><circle cx="664.9" cy="542.0" r="5.05"/><circle cx="671.5" cy="663.7" r="5.05"/><circle cx="678.1" cy="560.8" r="5.05"/><circle cx="684.7" cy="742.0" r="5.05"/><circle cx="691.3" cy="715.9" r="5.05"/><circle cx="697.9" cy="713.2" r="5.05"/><circle cx="704.5" cy="746.5" r="5.05"/><circle cx="711.1" cy="746.5" r="5.05"/><circle cx="717.7" cy="651.8" r="5.05"/><circle cx="724.3" cy="634.5" r="5.05"/><circle cx="730.9" cy="630.2" r="5.05"/><circle cx="737.5" cy="718.3" r="5.05"/><circle cx="744.1" cy="702.9" r="5.05"/><circle cx="750.7" cy="661.1" r="5.05"/><circle cx="757.3" cy="653.5" r="5.05"/><circle cx="763.9" cy="701.2" r="5.05"/><circle cx="770.5" cy="674.0" r="5.05"/><circle cx="777.1" cy="709.7" r="5.05"/><circle cx="783.7" cy="823.2" r="5.05"/><circle cx="790.3" cy="759.1" r="5.05"/><circle cx="796.9" cy="729.2" r="5.05"/><circle cx="803.5" cy="577.7" r="5.05"/><circle cx="810.0" cy="533.0" r="5.05"/><circle cx="816.6" cy="699.4" r="5.05"/><circle cx="823.2" cy="716.3" r="5.05"/><circle cx="829.8" cy="629.1" r="5.05"/><circle cx="836.4" cy="643.2" r="5.05"/><circle cx="843.0" cy="702.9" r="5.05"/><circle cx="849.6" cy="732.7" r="5.05"/><circle cx="856.2" cy="740.6" r="5.05"/><circle cx="862.8" cy="630.4" r="5.05"/><circle cx="869.4" cy="722.9" r="5.05"/><circle cx="876.0" cy="712.2" r="5.05"/><circle cx="882.6" cy="718.3" r="5.05"/><circle cx="889.2" cy="682.9" r="5.05"/><circle cx="895.8" cy="622.2" r="5.05"/><circle cx="902.4" cy="677.8" r="5.05"/><circle cx="909.0" cy="707.3" r="5.05"/><circle cx="915.6" cy="747.5" r="5.05"/><circle cx="922.2" cy="729.3" r="5.05"/><circle cx="928.8" cy="743.5" r="5.05"/><circle cx="935.4" cy="792.8" r="5.05"/><circle cx="942.0" cy="714.7" r="5.05"/><circle cx="948.6" cy="771.8" r="5.05"/><circle cx="955.2" cy="724.6" r="5.05"/><circle cx="961.8" cy="666.6" r="5.05"/><circle cx="968.4" cy="674.4" r="5.05"/><circle cx="974.9" cy="675.5" r="5.05"/><circle cx="981.5" cy="641.3" r="5.05"/><circle cx="988.1" cy="796.5" r="5.05"/><circle cx="994.7" cy="728.3" r="5.05"/><circle cx="1001.3" cy="671.1" r="5.05"/><circle cx="1007.9" cy="630.4" r="5.05"/><circle cx="1014.5" cy="725.0" r="5.05"/><circle cx="1027.7" cy="684.2" r="5.05"/><circle cx="1034.3" cy="689.5" r="5.05"/><circle cx="1040.9" cy="683.8" r="5.05"/><circle cx="1047.5" cy="582.7" r="5.05"/><circle cx="1054.1" cy="596.4" r="5.05"/><circle cx="1060.7" cy="611.2" r="5.05"/><circle cx="1067.3" cy="686.3" r="5.05"/><circle cx="1073.9" cy="644.6" r="5.05"/><circle cx="1080.5" cy="684.8" r="5.05"/><circle cx="1093.7" cy="723.3" r="5.05"/><circle cx="1100.3" cy="661.9" r="5.05"/><circle cx="1106.9" cy="651.6" r="5.05"/><circle cx="1113.5" cy="683.6" r="5.05"/><circle cx="1120.1" cy="589.1" r="5.05"/><circle cx="1126.7" cy="657.3" r="5.05"/><circle cx="1133.2" cy="597.2" r="5.05"/><circle cx="1139.8" cy="728.5" r="5.05"/><circle cx="1146.4" cy="675.6" r="5.05"/><circle cx="1153.0" cy="673.1" r="5.05"/><circle cx="1159.6" cy="691.3" r="5.05"/><circle cx="1166.2" cy="726.6" r="5.05"/><circle cx="1172.8" cy="700.8" r="5.05"/><circle cx="1179.4" cy="684.8" r="5.05"/><circle cx="1186.0" cy="654.4" r="5.05"/><circle cx="1192.6" cy="681.3" r="5.05"/><circle cx="1199.2" cy="640.4" r="5.05"/><circle cx="1205.8" cy="694.6" r="5.05"/><circle cx="1212.4" cy="623.1" r="5.05"/><circle cx="1219.0" cy="673.0" r="5.05"/><circle cx="1232.2" cy="671.8" r="5.05"/><circle cx="1238.8" cy="693.0" r="5.05"/><circle cx="1245.4" cy="637.6" r="5.05"/><circle cx="1252.0" cy="683.7" r="5.05"/><circle cx="1258.6" cy="716.8" r="5.05"/><circle cx="1265.2" cy="667.2" r="5.05"/><circle cx="1271.8" cy="626.8" r="5.05"/><circle cx="1278.4" cy="651.2" r="5.05"/><circle cx="1285.0" cy="592.2" r="5.05"/><circle cx="1291.5" cy="668.9" r="5.05"/><circle cx="1298.1" cy="714.4" r="5.05"/><circle cx="1304.7" cy="670.9" r="5.05"/><circle cx="1311.3" cy="715.2" r="5.05"/><circle cx="1317.9" cy="683.8" r="5.05"/><circle cx="1324.5" cy="633.0" r="5.05"/><circle cx="1331.1" cy="719.3" r="5.05"/><circle cx="1337.7" cy="699.2" r="5.05"/><circle cx="1344.3" cy="741.2" r="5.05"/><circle cx="1350.9" cy="688.3" r="5.05"/><circle cx="1357.5" cy="725.6" r="5.05"/><circle cx="1364.1" cy="729.8" r="5.05"/><circle cx="1370.7" cy="750.8" r="5.05"/><circle cx="1377.3" cy="777.1" r="5.05"/><circle cx="1383.9" cy="751.6" r="5.05"/><circle cx="1390.5" cy="735.6" r="5.05"/><circle cx="1397.1" cy="751.2" r="5.05"/><circle cx="1403.7" cy="791.1" r="5.05"/><circle cx="1410.3" cy="748.8" r="5.05"/><circle cx="1416.9" cy="789.4" r="5.05"/><circle cx="1423.5" cy="807.6" r="5.05"/><circle cx="1430.1" cy="766.8" r="5.05"/><circle cx="1436.7" cy="743.1" r="5.05"/><circle cx="1443.2" cy="661.6" r="5.05"/><circle cx="1449.8" cy="666.0" r="5.05"/><circle cx="1456.4" cy="662.1" r="5.05"/><circle cx="1463.0" cy="654.1" r="5.05"/><circle cx="1469.6" cy="615.3" r="5.05"/><circle cx="1476.2" cy="563.4" r="5.05"/><circle cx="1482.8" cy="650.4" r="5.05"/><circle cx="1489.4" cy="630.3" r="5.05"/><circle cx="1502.6" cy="630.2" r="5.05"/><circle cx="1509.2" cy="640.5" r="5.05"/><circle cx="1515.8" cy="625.5" r="5.05"/><circle cx="1522.4" cy="667.4" r="5.05"/><circle cx="1529.0" cy="587.1" r="5.05"/><circle cx="1535.6" cy="718.0" r="5.05"/><circle cx="1542.2" cy="708.6" r="5.05"/><circle cx="1548.8" cy="655.8" r="5.05"/><circle cx="1555.4" cy="706.5" r="5.05"/><circle cx="1562.0" cy="627.0" r="5.05"/><circle cx="1568.6" cy="655.8" r="5.05"/><circle cx="1575.2" cy="615.1" r="5.05"/><circle cx="1581.8" cy="671.9" r="5.05"/><circle cx="1588.4" cy="733.3" r="5.05"/><circle cx="1595.0" cy="697.9" r="5.05"/><circle cx="1601.5" cy="803.5" r="5.05"/><circle cx="1608.1" cy="720.9" r="5.05"/><circle cx="1614.7" cy="667.8" r="5.05"/><circle cx="1621.3" cy="713.5" r="5.05"/><circle cx="1627.9" cy="651.3" r="5.05"/><circle cx="1634.5" cy="685.9" r="5.05"/><circle cx="1647.7" cy="741.8" r="5.05"/><circle cx="1654.3" cy="666.1" r="5.05"/><circle cx="1660.9" cy="706.5" r="5.05"/><circle cx="1667.5" cy="730.0" r="5.05"/><circle cx="1674.1" cy="628.2" r="5.05"/><circle cx="1680.7" cy="716.8" r="5.05"/><circle cx="1687.3" cy="746.5" r="5.05"/><circle cx="1693.9" cy="688.8" r="5.05"/><circle cx="1700.5" cy="684.6" r="5.05"/><circle cx="1707.1" cy="710.1" r="5.05"/><circle cx="1713.7" cy="688.5" r="5.05"/><circle cx="1720.3" cy="812.6" r="5.05"/><circle cx="1726.9" cy="683.1" r="5.05"/><circle cx="1733.5" cy="688.9" r="5.05"/><circle cx="1746.7" cy="735.6" r="5.05"/><circle cx="1753.3" cy="700.6" r="5.05"/><circle cx="1759.8" cy="725.7" r="5.05"/><circle cx="1766.4" cy="771.1" r="5.05"/><circle cx="1773.0" cy="707.4" r="5.05"/><circle cx="1779.6" cy="793.4" r="5.05"/><circle cx="1786.2" cy="729.0" r="5.05"/><circle cx="1792.8" cy="742.6" r="5.05"/></g>
<g stroke="#0000ff" stroke-width="10.3" fill="none" stroke-linecap="butt"><line x1="255.5" y1="676.1" x2="645.2" y2="699.8"/><line x1="651.8" y1="665.4" x2="1040.9" y2="710.5"/><line x1="1047.5" y1="629.0" x2="1436.7" y2="746.4"/><line x1="1443.4" y1="631.5" x2="1792.9" y2="742.8"/></g>
<g font-family="'Liberation Sans', sans-serif" font-size="50.90" fill="#363636">
<g transform="translate(0,1381.70) scale(0.9500,1)"><text x="203.56 232.24 260.92 289.61">1995</text><rect x="206.07" y="-5.10" width="10.29" height="6.40" fill="#fff"/><rect x="220.85" y="-5.10" width="9.89" height="6.40" fill="#fff"/></g>
<g transform="translate(0,1381.70) scale(0.9500,1)"><text x="620.03 648.71 677.40 706.08">2000</text></g>
<g transform="translate(0,1381.70) scale(0.9500,1)"><text x="1036.50 1065.19 1093.87 1122.56">2005</text></g>
<g transform="translate(0,1381.70) scale(0.9500,1)"><text x="1452.98 1481.66 1510.35 1539.03">2010</text><rect x="1512.85" y="-5.10" width="10.29" height="6.40" fill="#fff"/><rect x="1527.64" y="-5.10" width="9.89" height="6.40" fill="#fff"/></g>
<g transform="translate(0,1381.70) scale(0.9500,1)"><text x="1869.45 1898.14 1926.82 1955.50">2015</text><rect x="1929.33" y="-5.10" width="10.29" height="6.40" fill="#fff"/><rect x="1944.12" y="-5.10" width="9.89" height="6.40" fill="#fff"/></g>
<g transform="translate(0,1331.45) scale(0.9500,1)"><text x="130.05 146.90 175.58 204.27" y="-1.20 0.00 0.00 0.00">-500</text></g>
<g transform="translate(0,1206.34) scale(0.9500,1)"><text x="130.05 146.90 175.58 204.27" y="-1.20 0.00 0.00 0.00">-400</text></g>
<g transform="translate(0,1081.23) scale(0.9500,1)"><text x="130.05 146.90 175.58 204.27" y="-1.20 0.00 0.00 0.00">-300</text></g>
<g transform="translate(0,956.12) scale(0.9500,1)"><text x="130.05 146.90 175.58 204.27" y="-1.20 0.00 0.00 0.00">-200</text></g>
<g transform="translate(0,831.01) scale(0.9500,1)"><text x="130.05 146.90 175.58 204.27" y="-1.20 0.00 0.00 0.00">-100</text><rect x="149.41" y="-5.10" width="10.29" height="6.40" fill="#fff"/><rect x="164.20" y="-5.10" width="9.89" height="6.40" fill="#fff"/></g>
<g transform="translate(0,705.90) scale(0.9500,1)"><text x="212.06">0</text></g>
<g transform="translate(0,580.79) scale(0.9500,1)"><text x="148.79 177.48 206.16">100</text><rect x="151.30" y="-5.10" width="10.29" height="6.40" fill="#fff"/><rect x="166.09" y="-5.10" width="9.89" height="6.40" fill="#fff"/></g>
<g transform="translate(0,455.68) scale(0.9500,1)"><text x="148.79 177.48 206.16">200</text></g>
<g transform="translate(0,330.57) scale(0.9500,1)"><text x="148.79 177.48 206.16">300</text></g>
<g transform="translate(0,205.46) scale(0.9500,1)"><text x="148.79 177.48 206.16">400</text></g>
<g transform="translate(0,80.35) scale(0.9500,1)"><text x="148.79 177.48 206.16">500</text></g>
<text transform="translate(94.6,668.8) rotate(-90) scale(0.9850,1)" text-anchor="middle" font-size="54.40">mass [Gt]</text>
</g>
<rect x="303.9" y="971.1" width="473.80" height="295.10" fill="#fff" stroke="#3a3a3a" stroke-width="2.8"/>
<g font-family="'Liberation Sans', sans-serif" font-size="46.02" fill="#000">
<circle cx="391" cy="1006.00" r="5.1" fill="#000000"/>
<text transform="translate(475.00,1022.50) scale(0.9473,1)" stroke="#000" stroke-width="0.35">GRACE (60)</text>
<circle cx="391" cy="1062.35" r="5.1" fill="#00ff00"/>
<g transform="translate(475.00,1078.85) scale(0.9473,1)"><text stroke="#000" stroke-width="0.35">GRACE (10)</text><rect x="193.92" y="-4.74" width="9.44" height="6.04" fill="#fff"/><rect x="207.42" y="-4.74" width="9.08" height="6.04" fill="#fff"/></g>
<circle cx="391" cy="1118.70" r="5.1" fill="#ff0000"/>
<g transform="translate(475.00,1135.20) scale(0.9473,1)"><text stroke="#000" stroke-width="0.35">SLR (10) reg.</text><rect x="119.78" y="-4.74" width="9.44" height="6.04" fill="#fff"/><rect x="133.29" y="-4.74" width="9.08" height="6.04" fill="#fff"/></g>
<circle cx="391" cy="1175.05" r="5.1" fill="#ff00ff"/>
<text transform="translate(475.00,1191.55) scale(0.9473,1)" stroke="#000" stroke-width="0.35">GRACE (6)</text>
<circle cx="391" cy="1231.40" r="5.1" fill="#0000ff"/>
<text transform="translate(475.00,1247.90) scale(0.9473,1)" stroke="#000" stroke-width="0.35">SLR (6) free</text>
</g>
</svg>
</body>
</html>
